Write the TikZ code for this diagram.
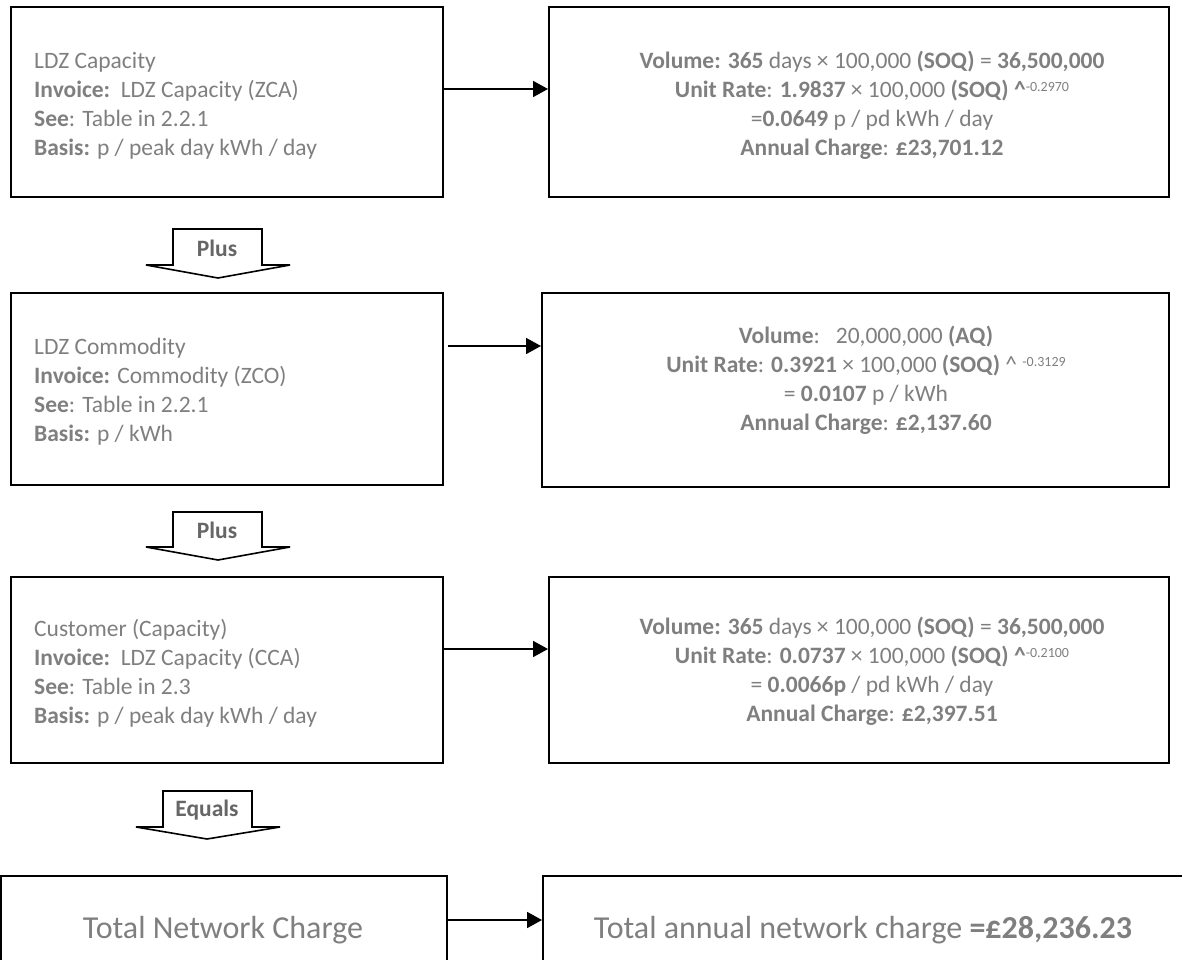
\documentclass[tikz,border=0pt]{standalone}
\usepackage{fontspec}
\setmainfont{Carlito}
\usetikzlibrary{arrows.meta}
\definecolor{txtgray}{HTML}{7F7F7F}
\definecolor{lblgray}{HTML}{666666}
\newcommand{\bodysize}{\fontsize{23.5pt}{29pt}\selectfont}
\newcommand{\bigsize}{\fontsize{32pt}{38pt}\selectfont}
\newcommand{\supnum}[1]{\raisebox{0.55ex}{\fontsize{14pt}{16pt}\selectfont #1}}
\tikzset{
  box/.style={draw=black, line width=2pt, rectangle, inner sep=0pt},
  lefttxt/.style={text=txtgray, align=left, anchor=west, inner sep=0pt, font=\bodysize},
  righttxt/.style={text=txtgray, align=center, inner sep=0pt, font=\bodysize},
  bigtxt/.style={text=txtgray, inner sep=0pt, font=\bigsize},
  conn/.style={line width=1.8pt, -{Triangle[length=15pt,width=16pt]}},
  blockarrow/.style={draw=black, line width=1.6pt, fill=white, line join=miter},
  blocklbl/.style={text=lblgray, inner sep=0pt, font=\bodysize\bfseries}
}
\begin{document}
\begin{tikzpicture}[x=1pt,y=-1pt]
\useasboundingbox (0,0) rectangle (1182,960);
\clip (0,0) rectangle (1182,960);
% boxes
\node[box, minimum width=432pt, minimum height=190pt] (b1L) at (227,102) {};
\node[box, minimum width=620pt, minimum height=190pt] (b1R) at (859,102) {};
\node[box, minimum width=432pt, minimum height=192pt] (b2L) at (227,389) {};
\node[box, minimum width=627pt, minimum height=194pt] (b2R) at (855.5,390) {};
\node[box, minimum width=432pt, minimum height=186pt] (b3L) at (227,670) {};
\node[box, minimum width=620pt, minimum height=186pt] (b3R) at (859,670) {};
\node[box, minimum width=446pt, minimum height=124pt] (b4L) at (224,938) {};
\node[box, minimum width=657pt, minimum height=124pt] (b4R) at (871.5,938) {};
% left texts
\node[lefttxt] (t1L) at (34,106) {LDZ Capacity\\\textbf{Invoice:}\ \ LDZ Capacity (ZCA)\\\textbf{See}: Table in 2.2.1\\\textbf{Basis:} p / peak day kWh / day};
\node[lefttxt] (t2L) at (34,392) {LDZ Commodity\\\textbf{Invoice:} Commodity (ZCO)\\\textbf{See}: Table in 2.2.1\\\textbf{Basis:} p / kWh};
\node[lefttxt] (t3L) at (34,673) {Customer (Capacity)\\\textbf{Invoice:}\ \ LDZ Capacity (CCA)\\\textbf{See}: Table in 2.3\\\textbf{Basis:} p / peak day kWh / day};
% right texts
\node[righttxt] (t1R) at (872,105) {\textbf{Volume: 365} days × 100,000 \textbf{(SOQ)} = \textbf{36,500,000}\\\textbf{Unit Rate}: \textbf{1.9837} × 100,000 \textbf{(SOQ)} \textbf{\textasciicircum}\supnum{-0.2970}\\=\textbf{0.0649} p / pd kWh / day\\\textbf{Annual Charge}: \textbf{£23,701.12}};
\node[righttxt] (t2R) at (866,380) {\textbf{Volume}:\ \ \ 20,000,000 \textbf{(AQ)}\\\textbf{Unit Rate}: \textbf{0.3921} × 100,000 \textbf{(SOQ)} \textasciicircum\ \supnum{-0.3129}\\= \textbf{0.0107} p / kWh\\\textbf{Annual Charge}: \textbf{£2,137.60}};
\node[righttxt] (t3R) at (872,671) {\textbf{Volume: 365} days × 100,000 \textbf{(SOQ)} = \textbf{36,500,000}\\\textbf{Unit Rate}: \textbf{0.0737} × 100,000 \textbf{(SOQ)} \textbf{\textasciicircum}\supnum{-0.2100}\\= \textbf{0.0066p} / pd kWh / day\\\textbf{Annual Charge}: \textbf{£2,397.51}};
% bottom texts
\node[bigtxt] (t4L) at (223,930) {Total Network Charge};
\node[bigtxt] (t4R) at (863,930) {Total annual network charge \textbf{=£28,236.23}};
% connectors
\coordinate (a1) at (0,89);
\coordinate (a2) at (0,346);
\coordinate (a3) at (0,649);
\coordinate (a4) at (0,920);
\draw[conn] (b1L.east |- a1) -- (b1R.west |- a1);
\draw[conn] ([xshift=4pt]b2L.east |- a2) -- (b2R.west |- a2);
\draw[conn] (b3L.east |- a3) -- (b3R.west |- a3);
\draw[conn] (b4L.east |- a4) -- (b4R.west |- a4);
% block arrows
\draw[blockarrow] (173,265) -- (173,229) -- (262,229) -- (262,265) -- (290,265) -- (218,278) -- (146,265) -- cycle;
\node[blocklbl] (p1) at (217,248) {Plus};
\draw[blockarrow] (173,547) -- (173,512) -- (262,512) -- (262,547) -- (290,547) -- (218,560) -- (146,547) -- cycle;
\node[blocklbl] (p2) at (217,530) {Plus};
\draw[blockarrow] (163,827) -- (163,791) -- (252,791) -- (252,827) -- (280,827) -- (207,839) -- (136,827) -- cycle;
\node[blocklbl] (p3) at (207,810) {Equals};
\end{tikzpicture}
\end{document}
